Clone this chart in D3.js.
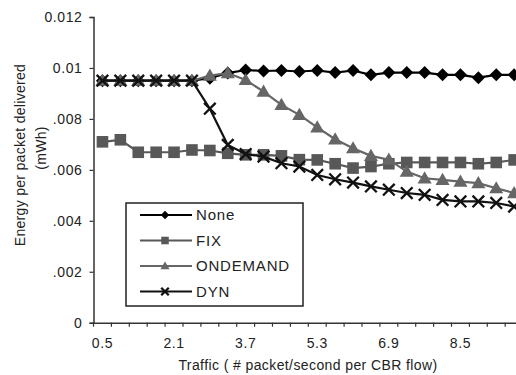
<!DOCTYPE html>
<html>
<head>
<meta charset="utf-8">
<script src="https://cdn.jsdelivr.net/npm/d3@7"></script>
<style>
	body { margin: 0; background: #fff; }
	svg { display: block; font-family: "Liberation Sans", Arial, sans-serif; }
</style>
</head>
<body>
<svg id="chart" width="516" height="375"></svg>
<script>
// categories on the x axis (packet/second per CBR flow)
var categories = ['0.5','0.9','1.3','1.7','2.1','2.5','2.9','3.3','3.7','4.1','4.5','4.9',
	'5.3','5.7','6.1','6.5','6.9','7.3','7.7','8.1','8.5','8.9','9.3','9.7'];
var xTickLabels = ['0.5','2.1','3.7','5.3','6.9','8.5'];
var yTicks = [0, 0.002, 0.004, 0.006, 0.008, 0.01, 0.012];
var yTickLabels = ['0', '.002', '.004', '.006', '.008', '0.01', '0.012'];

var noneVals = [0.0095, 0.0095, 0.0095, 0.0095, 0.0095, 0.0095, 0.0096, 0.0098, 0.00992, 0.00988,
	0.0099, 0.00986, 0.0099, 0.00982, 0.0099, 0.00973, 0.00982, 0.00982, 0.00982, 0.00973,
	0.00973, 0.00962, 0.00973, 0.00973];
var fixVals = [0.0071, 0.00718, 0.00669, 0.00669, 0.00669, 0.00678, 0.00676, 0.00665, 0.00659, 0.00659,
	0.00655, 0.0064, 0.00639, 0.00624, 0.00607, 0.00613, 0.00624, 0.00629, 0.00629, 0.00629,
	0.00629, 0.00624, 0.00629, 0.00639];
var ondemandVals = [0.0095, 0.0095, 0.0095, 0.0095, 0.0095, 0.0095, 0.0097, 0.0098, 0.00953, 0.00907,
	0.00855, 0.00816, 0.00767, 0.0072, 0.00685, 0.00655, 0.0064, 0.00593, 0.00567, 0.00561,
	0.00554, 0.00548, 0.00528, 0.00509];
var dynVals = [0.0095, 0.0095, 0.0095, 0.0095, 0.0095, 0.0095, 0.0084, 0.00698, 0.00662, 0.00652,
	0.00626, 0.00613, 0.0058, 0.00563, 0.0055, 0.00535, 0.00522, 0.00509, 0.00502, 0.00482,
	0.00476, 0.00476, 0.0047, 0.00456];

var seriesNames = ['None', 'FIX', 'ONDEMAND', 'DYN'];

var series = [
	{name : seriesNames[0], vals : noneVals, color : '#000', marker : 'diamond'},
	{name : seriesNames[1], vals : fixVals, color : '#585858', marker : 'square'},
	{name : seriesNames[2], vals : ondemandVals, color : '#666', marker : 'triangle'},
	{name : seriesNames[3], vals : dynVals, color : '#111', marker : 'cross'}
];

var svg = d3.select('#chart');
var left = 93.5, step = 17.9;

var x = d3.scaleBand()
	.domain(categories)
	.range([left, left + step * categories.length])
	.padding(0);

var y = d3.scaleLinear()
	.domain([0, 0.012])
	.range([322.7, 17]);

var cx = function(c){ return x(c) + x.bandwidth() / 2; };

//axes
var yAxis = svg.append('g')
	.attr('transform', `translate(${left},0)`)
	.call(d3.axisLeft(y)
		.tickValues(yTicks)
		.tickSize(4)
		.tickPadding(7)
		.tickFormat(function(d, i){ return yTickLabels[i]; }));

yAxis.select('.domain').attr('stroke', '#333').attr('stroke-width', 1.5);
yAxis.selectAll('.tick line').attr('stroke', '#333').attr('stroke-width', 1.2);
yAxis.selectAll('.tick text')
	.attr('fill', '#222')
	.style('font-size', '14px')
	.style('letter-spacing', '0.6px');

var xAxis = svg.append('g')
	.attr('transform', `translate(0,${y(0)})`)
	.call(d3.axisBottom(x)
		.tickValues(xTickLabels)
		.tickSize(0)
		.tickPadding(15));

xAxis.select('.domain').attr('stroke', '#333').attr('stroke-width', 1.5);
xAxis.selectAll('.tick text')
	.attr('fill', '#222')
	.style('font-size', '14px')
	.style('letter-spacing', '0.6px');

// minor ticks at category edges
xAxis.selectAll('.minor')
	.data(categories.concat(['end']))
	.enter()
	.append('line')
	.attr('class', 'minor')
	.attr('x1', (d) => d === 'end' ? x.range()[1] : x(d))
	.attr('x2', (d) => d === 'end' ? x.range()[1] : x(d))
	.attr('y1', 0)
	.attr('y2', 4)
	.attr('stroke', '#333')
	.attr('stroke-width', 1.2);

//axis titles
svg.append('text')
	.attr('x', 308)
	.attr('y', 370)
	.attr('text-anchor', 'middle')
	.attr('fill', '#222')
	.style('font-size', '14px')
	.style('letter-spacing', '0.4px')
	.text('Traffic ( # packet/second per CBR flow)');

svg.append('text')
	.attr('transform', 'translate(25,155) rotate(-90)')
	.attr('text-anchor', 'middle')
	.attr('fill', '#222')
	.style('font-size', '14px')
	.style('letter-spacing', '0.3px')
	.text('Energy  per packet delivered');

svg.append('text')
	.attr('transform', 'translate(46,148) rotate(-90)')
	.attr('text-anchor', 'middle')
	.attr('fill', '#222')
	.style('font-size', '14px')
	.style('letter-spacing', '0.3px')
	.text('(mWh)');

//markers
function drawMarker(g, type, color, size){
	if(type === 'diamond'){
		g.append('path')
			.attr('d', `M0,${-size}L${size},0L0,${size}L${-size},0Z`)
			.attr('fill', color);
	}else if(type === 'square'){
		g.append('rect')
			.attr('x', -size).attr('y', -size)
			.attr('width', size * 2).attr('height', size * 2)
			.attr('fill', color);
	}else if(type === 'triangle'){
		g.append('path')
			.attr('d', `M0,${-size * 1.1}L${size * 1.1},${size * 0.8}L${-size * 1.1},${size * 0.8}Z`)
			.attr('fill', color);
	}else{
		g.append('path')
			.attr('d', `M${-size},${-size}L${size},${size}M${size},${-size}L${-size},${size}`)
			.attr('stroke', color)
			.attr('stroke-width', 2.3)
			.attr('fill', 'none');
	}
}

var markerSize = {diamond : 6.5, square : 5.8, triangle : 6.4, cross : 5.8};

var line = d3.line()
	.x(function(d, i){ return cx(categories[i]); })
	.y(function(d){ return y(d); });

var plot = svg.append('g');

series.forEach(function(s){
	plot.append('path')
		.datum(s.vals)
		.attr('d', line)
		.attr('fill', 'none')
		.attr('stroke', s.color)
		.attr('stroke-width', 2.2);

	plot.append('g')
		.selectAll('g')
		.data(s.vals)
		.enter()
		.append('g')
		.attr('transform', (d, i) => `translate(${cx(categories[i])},${y(d)})`)
		.each(function(){
			drawMarker(d3.select(this), s.marker, s.color, markerSize[s.marker]);
		});
});

//legend
var legend = svg.append('g');

legend.append('rect')
	.attr('x', 126)
	.attr('y', 203)
	.attr('width', 177)
	.attr('height', 103)
	.attr('fill', '#fff')
	.attr('stroke', '#222')
	.attr('stroke-width', 1.5);

var legendItems = legend.selectAll('.item')
	.data(series)
	.enter()
	.append('g')
	.attr('class', 'item')
	.attr('transform', (d, i) => `translate(0,${215 + i * 25.5})`);

legendItems.append('line')
	.attr('x1', 140)
	.attr('x2', 192)
	.attr('stroke', (d) => d.color)
	.attr('stroke-width', 2);

legendItems.append('g')
	.attr('transform', 'translate(165,0)')
	.each(function(d){
		drawMarker(d3.select(this), d.marker, d.color, markerSize[d.marker] * 0.65);
	});

legendItems.append('text')
	.attr('x', 196)
	.attr('dy', '0.36em')
	.attr('fill', '#222')
	.style('font-size', '15px')
	.style('letter-spacing', '0.8px')
	.text((d) => d.name);
</script>
</body>
</html>
